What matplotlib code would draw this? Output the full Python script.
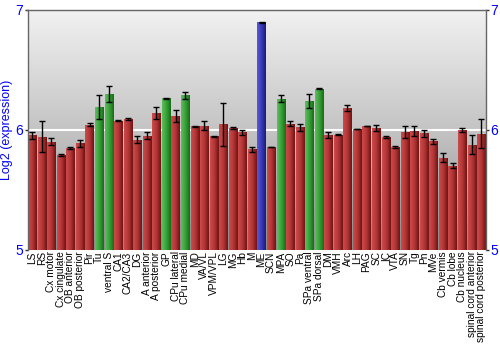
import numpy as np
import matplotlib
matplotlib.use('Agg')
import matplotlib.pyplot as plt
from matplotlib.colors import LinearSegmentedColormap

plt.rcParams['font.family'] = ['Liberation Sans', 'DejaVu Sans']

# brain regions and their expression values (log2)
regions = ['LS', 'RS', 'Cx motor', 'Cx cingulate', 'OB anterior', 'OB posterior', 'Pir',
           'Tu', 'ventral S', 'CA1', 'CA2/CA3', 'DG', 'A anterior', 'A posterior', 'GP',
           'CPu lateral', 'CPu medial', 'MD', 'VA/VL', 'VPM/VPL', 'LG', 'MG', 'Hb', 'M',
           'ME', 'SCN', 'MPA', 'SO', 'Pa', 'SPa ventral', 'SPa dorsal', 'DM', 'VMH', 'Arc',
           'LH', 'PAG', 'SC', 'IC', 'VTA', 'SN', 'Tg', 'Pn', 'MVe', 'Cb vermis', 'Cb lobe',
           'Cb nucleus', 'spinal cord anterior', 'spinal cord posterior']
values = [5.953, 5.944, 5.90, 5.79, 5.847, 5.889, 6.044,
          6.194, 6.30, 6.075, 6.092, 5.917, 5.95, 6.144, 6.264,
          6.117, 6.289, 6.028, 6.036, 5.947, 6.047, 6.017, 5.978, 5.839,
          6.897, 5.858, 6.258, 6.05, 6.022, 6.242, 6.342, 5.958, 5.961, 6.18,
          6.006, 6.033, 6.014, 5.939, 5.858, 5.978, 5.989, 5.972, 5.906, 5.769, 5.703,
          5.997, 5.875, 5.967]
errors = [0.03, 0.13, 0.03, 0.005, 0.01, 0.03, 0.01,
          0.10, 0.065, 0.005, 0.01, 0.03, 0.03, 0.05, 0.003,
          0.05, 0.03, 0.003, 0.04, 0.005, 0.18, 0.01, 0.02, 0.02,
          0.005, 0.003, 0.03, 0.02, 0.03, 0.06, 0.005, 0.025, 0.003, 0.025,
          0.003, 0.003, 0.025, 0.008, 0.008, 0.05, 0.04, 0.03, 0.02, 0.04, 0.02,
          0.015, 0.08, 0.12]
# r = red, g = green, b = blue group
groups = ['r'] * 7 + ['g', 'g'] + ['r'] * 5 + ['g', 'r', 'g'] + ['r'] * 7 + ['b', 'r', 'g', 'r', 'r', 'g', 'g'] + ['r'] * 17

cmaps = {
    'r': LinearSegmentedColormap.from_list('r', ['#cc4c4c', '#b43636', '#6e1414']),
    'g': LinearSegmentedColormap.from_list('g', ['#5cc05c', '#38a038', '#146e14']),
    'b': LinearSegmentedColormap.from_list('b', ['#5a5ad8', '#3a3ab8', '#1a1a7a']),
}
bg_cmap = LinearSegmentedColormap.from_list('bg', ['#f2f2f2', '#c4c4c4', '#8a8a8a'])

fig = plt.figure(figsize=(5, 3.5), dpi=100)
ax = fig.add_axes([0.055, 0.286, 0.917, 0.686])

x = np.arange(len(regions))

# background gradient
ax.imshow(np.linspace(0, 1, 256).reshape(-1, 1), cmap=bg_cmap, aspect='auto',
          extent=(0, 1, 0, 1), transform=ax.transAxes, zorder=0)
ax.axhline(6, color='white', lw=1.5, zorder=1)

bars = ax.bar(x, np.array(values) - 5, bottom=5, width=0.86, color='none', zorder=2)
grad = np.linspace(0, 1, 64).reshape(1, -1)
for b, g in zip(bars, groups):
    x0 = b.get_x()
    im = ax.imshow(grad, cmap=cmaps[g], aspect='auto', zorder=2,
                   extent=(x0, x0 + b.get_width(), 5, b.get_y() + b.get_height()))
    im.set_clip_path(b)

ax.errorbar(x, values, yerr=errors, fmt='none', ecolor='black', elinewidth=1,
            capsize=2.2, capthick=1, zorder=3)

ax.set_xlim(-0.5, len(regions) - 0.5)
ax.set_ylim(5, 7)

ax.set_xticks(x)
ax.set_xticklabels(regions, rotation=90, fontsize=7.3)
ax.tick_params(axis='x', length=0, pad=1)
ax.set_yticks([5, 6, 7])
ax.tick_params(axis='y', colors='#333333', labelcolor='blue', labelsize=10,
               length=2.5, width=1, pad=0.5, right=True, labelright=True)
ax.set_ylabel('Log2 (expression)', color='blue', fontsize=9)
ax.yaxis.set_label_coords(-0.032, 0.5)

for s in ['left', 'top', 'right']:
    ax.spines[s].set_color('#666666')
    ax.spines[s].set_linewidth(1)
ax.spines['bottom'].set_visible(False)

plt.savefig('out.png', dpi=100)
